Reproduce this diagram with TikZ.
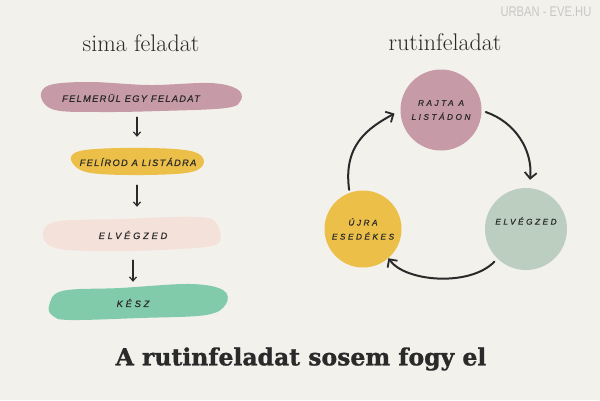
\documentclass[tikz,border=0pt]{standalone}
\usepackage{fontspec}
\usetikzlibrary{arrows.meta}
\newfontfamily\lbl[LetterSpace=14,FakeBold=0.6]{Liberation Sans}
\newfontfamily\lblw[LetterSpace=30,FakeBold=0.6]{Liberation Sans}
\newfontfamily\headfont[BoldFeatures={FakeBold=1.2}]{DejaVu Serif}
\newfontfamily\wmfont{Liberation Sans}
\definecolor{bg}{HTML}{F3F1EC}
\definecolor{mauve}{HTML}{C69AA6}
\definecolor{sun}{HTML}{EBBF48}
\definecolor{blush}{HTML}{F4E2DA}
\definecolor{mint}{HTML}{82CBAA}
\definecolor{sage}{HTML}{BCCEC0}
\definecolor{ink}{HTML}{2A2A2A}
\begin{document}
\begin{tikzpicture}[x=1pt,y=-1pt,
  title/.style={font=\fontsize{24}{26}\selectfont, text=ink, inner sep=0pt},
  blobtext/.style={font=\lbl\itshape\fontsize{9.3}{10}\selectfont, text=ink, inner sep=0pt, minimum height=30pt},
  blobwide/.style={font=\lblw\itshape\fontsize{9.3}{10}\selectfont, text=ink, inner sep=0pt, minimum height=30pt},
  circ/.style={circle, inner sep=0pt, align=center, text=ink, font=\lblw\itshape\fontsize{8.3}{14}\selectfont},
  arr/.style={draw=ink, line width=1.3pt, line cap=round, -{Straight Barb[length=4pt,width=7pt,line width=1.2pt]}},
  carr/.style={draw=ink, line width=2pt, line cap=round, -{Straight Barb[length=6pt,width=12pt,line width=1.8pt]}}]
\fill[bg] (0,0) rectangle (600,400);
\useasboundingbox (0,0) rectangle (600,400);
% watermark
\node[inner sep=0pt, text=black!22, font=\wmfont\fontsize{14}{14}\selectfont] (wm) at (546,12) {\scalebox{0.8}[1]{URBAN - EVE.HU}};
% titles
\node[title] (t1) at (141,43) {sima feladat};
\node[title] (t2) at (445,42) {rutinfeladat};
% blobs
\fill[mauve] plot[smooth cycle, tension=0.6] coordinates {(41,97) (50,85) (90,82) (150,85) (210,83) (237,89) (241,100) (226,108) (160,111) (100,112) (55,110)};
\fill[sun] plot[smooth cycle, tension=0.6] coordinates {(71,160) (80,151) (120,148) (175,149) (199,154) (203,165) (186,173) (130,175) (86,172)};
\fill[blush] plot[smooth cycle, tension=0.6] coordinates {(43,237) (55,222) (120,219) (200,217) (218,226) (217,244) (180,249) (120,251) (60,249)};
\fill[mint] plot[smooth cycle, tension=0.6] coordinates {(49,306) (62,291) (120,288) (190,284) (223,290) (226,304) (206,315) (140,318) (70,320) (53,316)};
\node[blobtext] (n1) at (131,98) {FELMERÜL EGY FELADAT};
\node[blobtext] (n2) at (138,162) {FELÍROD A LISTÁDRA};
\node[blobwide] (n3) at (133,235) {ELVÉGZED};
\node[blobwide] (n4) at (133,303) {KÉSZ};
\draw[arr] ([shift={(6,4)}]n1.south) -- ([shift={(-1,-10)}]n2.north);
\draw[arr] ([shift={(-1,8)}]n2.south) -- ([shift={(4,-13)}]n3.north);
\draw[arr] ([shift={(0,10)}]n3.south) -- ([shift={(0,-6)}]n4.north);
% cycle
\node[circ, fill=mauve, minimum size=81pt] (c1) at (441,110) {RAJTA A\\LISTÁDON};
\node[circ, fill=sage, minimum size=82pt] (c2) at (526,229) {ELVÉGZED\\[2pt]};
\node[circ, fill=sun, minimum size=77pt] (c3) at (363,229) {ÚJRA\\ESEDÉKES};
\draw[carr] ([shift={(4,2)}]c1.east) .. controls (515,122) and (533,150) .. ([shift={(4,-8)}]c2.north);
\draw[carr] ([shift={(-4,2)}]c2.228) .. controls (470,287) and (405,282) .. (c3.-49);
\draw[carr] ([shift={(0,-3)}]c3.111) .. controls (343,145) and (368,128) .. ([xshift=-6]c1.185);
% bottom title
\node[inner sep=0pt, text=ink, font=\headfont\bfseries\fontsize{23.5}{26}\selectfont] (bt) at (301,359) {A rutinfeladat sosem fogy el};
\end{tikzpicture}
\end{document}
